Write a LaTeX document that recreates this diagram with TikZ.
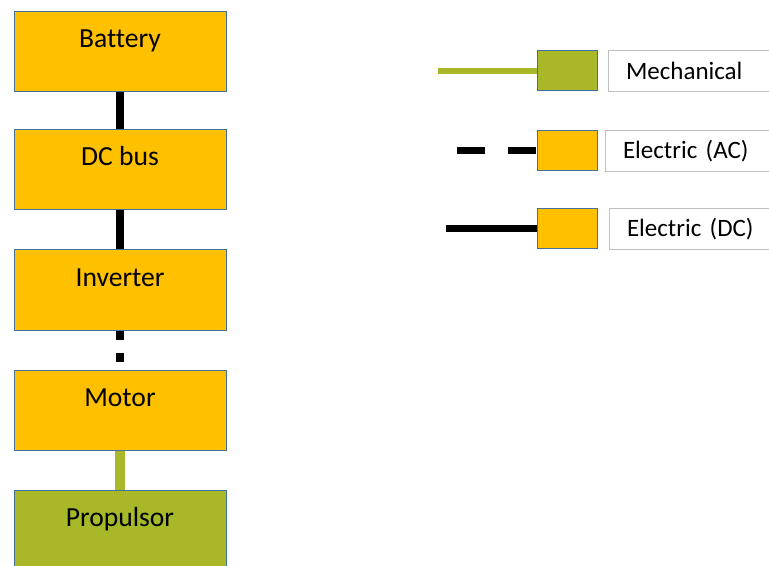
\documentclass[tikz,border=0pt]{standalone}
\usepackage{fontspec}
\setmainfont{Carlito}[Ligatures=NoCommon]
\usetikzlibrary{positioning}
\definecolor{blockorange}{RGB}{255,192,0}
\definecolor{blockgreen}{RGB}{168,184,40}
\definecolor{blockedge}{RGB}{65,113,156}
\definecolor{labeledge}{RGB}{191,191,191}
\tikzset{
    block/.style={rectangle, draw=blockedge, line width=0.5pt, fill=blockorange, minimum width=106pt, inner sep=0pt, text height=18pt, text depth=22pt, font=\fontsize{13.8}{16}\selectfont},
    keybox/.style={rectangle, draw=blockedge, line width=0.5pt, fill=blockorange, minimum width=30pt, minimum height=20pt, inner sep=0pt},
    labelbox/.style={rectangle, draw=labeledge, line width=0.5pt, fill=white, text width=74pt, inner xsep=9pt, inner ysep=0pt, minimum height=20.5pt, align=left, font=\fontsize{12.5}{14}\selectfont},
    dcline/.style={black, line width=4pt},
    acline/.style={black, line width=4pt, dash pattern=on 4.5pt off 6.5pt},
    mechline/.style={blockgreen, line width=5pt}
}
\begin{document}
\begin{tikzpicture}[x=0.5pt, y=-0.5pt, node distance=19.5pt]
            \useasboundingbox (0,0) rectangle (769,566);

            % drive chain
            \node (battery) [block] at (120,52) {Battery};
            \node (dcbus) [block, below=18.5pt of battery] {DC bus};
            \node (inverter) [block, below=of dcbus] {Inverter};
            \node (motor) [block, below=of inverter] {Motor};
            \node (propulsor) [block, fill=blockgreen, below=of motor] {Propulsor};

            \draw [dcline] (battery) -- (dcbus);
            \draw [dcline] (dcbus) -- (inverter);
            \draw [acline] (inverter) -- (motor);
            \draw [mechline] (motor) -- (propulsor);

            % legend
            \node (mechkey) [keybox, fill=blockgreen] at (567,71) {};
            \node (ackey) [keybox, below=19.5pt of mechkey] {};
            \node (dckey) [keybox, below=18.5pt of ackey] {};

            \node (mechlabel) [labelbox, right=5pt of mechkey] {Mechanical};
            \node (aclabel) [labelbox, right=3.5pt of ackey] {Electric (AC)};
            \node (dclabel) [labelbox, right=5.5pt of dckey] {Electric (DC)};

            \coordinate (mechend) at ([xshift=-49.5pt]mechkey.west);
            \coordinate (acend) at ([xshift=-40pt]ackey.west);
            \coordinate (dcend) at ([xshift=-45.5pt]dckey.west);
            \draw [mechline, line width=3.25pt] (mechend) -- (mechkey);
            \draw [acline, line width=3.5pt, dash pattern=on 14pt off 11.5pt] (acend) -- (ackey);
            \draw [dcline, line width=3.5pt] (dcend) -- (dckey);
        \end{tikzpicture}
\end{document}
